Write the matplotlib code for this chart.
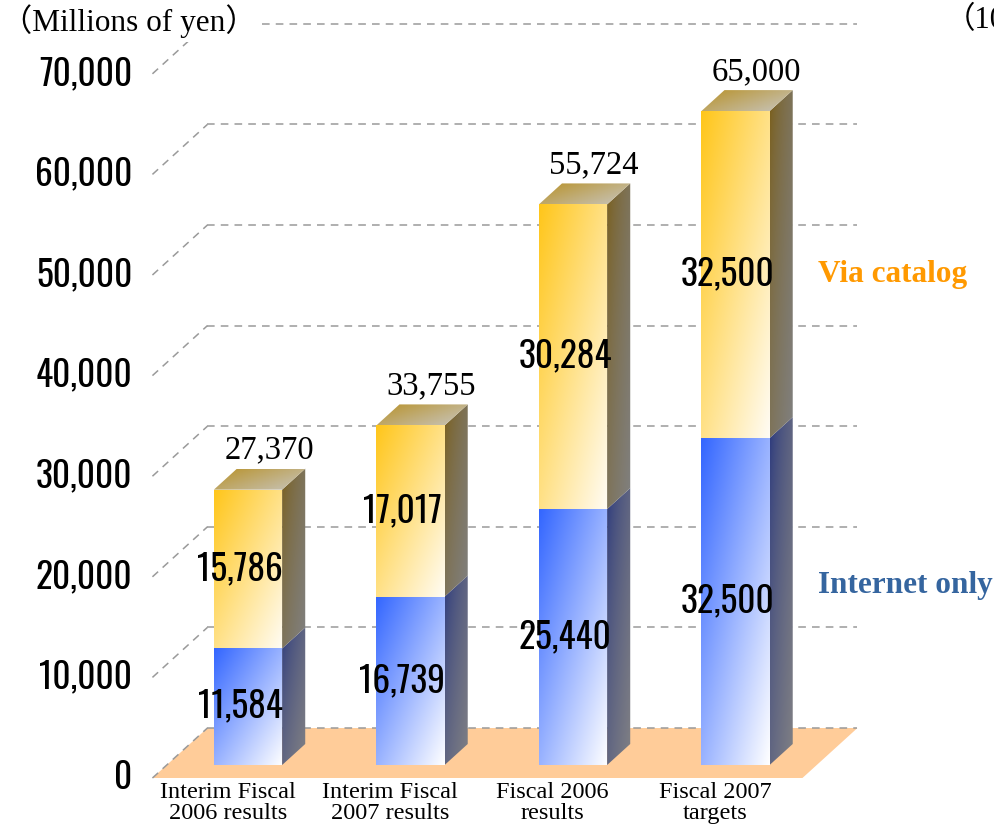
import numpy as np
import matplotlib
matplotlib.use("Agg")
import matplotlib.pyplot as plt
from matplotlib.patches import Polygon
from matplotlib import font_manager as fm
from matplotlib.colors import to_rgb

# data (millions of yen)
categories = ["Interim Fiscal\n2006 results", "Interim Fiscal\n2007 results",
              "Fiscal 2006\nresults", "Fiscal 2007\ntargets"]
internet = [11584, 16739, 25440, 32500]
catalog = [15786, 17017, 30284, 32500]
totals = [27370, 33755, 55724, 65000]
yticks = [0, 10000, 20000, 30000, 40000, 50000, 60000, 70000]

# layout: pixels per category / per yen unit
PX_X = 162.5
PX_Y = 100.6 / 10000
DEPTH = (55, 50)          # floor depth in pixels
F_FRONT = 0.26            # bar front plane position inside the depth
F_BAR = 0.42              # bar depth as fraction of floor depth
BAR_W = 0.42

names = {f.name for f in fm.fontManager.ttflist}
NUM_FONT = next((f for f in ["Oswald", "Fira Sans Extra Condensed", "Roboto Condensed",
                             "Liberation Sans Narrow"] if f in names), "DejaVu Sans")
NUM_SIZE = 25.5
SERIF = ["Liberation Serif", "Noto Sans CJK JP", "DejaVu Sans"]


def dx(p):
    return p / PX_X


def dy(p):
    return p / PX_Y


front = (dx(-F_FRONT * DEPTH[0]), dy(-F_FRONT * DEPTH[1]))
back = (dx((1 - F_FRONT) * DEPTH[0]), dy((1 - F_FRONT) * DEPTH[1]))
bdep = (dx(F_BAR * DEPTH[0]), dy(F_BAR * DEPTH[1]))


def shade(ax, verts, c1, c2, z, gamma=1.0, wu=0.5):
    verts = np.asarray(verts, dtype=float)
    x0, y0 = verts.min(0)
    x1, y1 = verts.max(0)
    n = 80
    u = np.linspace(0, 1, n)[None, :]
    v = np.linspace(0, 1, n)[:, None]
    t = np.clip(wu * u + (1 - wu) * (1 - v), 0, 1) ** gamma
    c1 = np.array(to_rgb(c1))
    c2 = np.array(to_rgb(c2))
    rgb = (1 - t)[..., None] * c1 + t[..., None] * c2
    im = ax.imshow(rgb, extent=(x0, x1, y0, y1), origin="lower", aspect="auto",
                   interpolation="bilinear", zorder=z)
    poly = Polygon(verts, closed=True, facecolor="none", edgecolor="none")
    ax.add_patch(poly)
    im.set_clip_path(poly)


fig = plt.figure(figsize=(9.94, 8.27), dpi=100)
ax = fig.add_axes([0, 0, 1, 1])
ax.axis("off")

n = len(categories)
left, right = -0.5, n - 0.5

# floor
floor = [(left + front[0], front[1]), (right + front[0], front[1]),
         (right + back[0], back[1]), (left + back[0], back[1])]
ax.add_patch(Polygon(floor, closed=True, facecolor="#FFCC99", edgecolor="none", zorder=1))

# gridlines on back wall + diagonals on left side
grid_kw = dict(color="#9A9A9A", lw=1.1, ls=(0, (5, 4)), zorder=2)
for v in yticks:
    ax.plot([left + back[0], right + back[0]], [v + back[1]] * 2, **grid_kw)
    ax.plot([left + front[0], left + back[0]], [v + front[1], v + back[1]], **grid_kw)
    ax.text(left + front[0] - dx(20), v + front[1], f"{v:,}", ha="right", va="center",
            fontsize=NUM_SIZE, family=NUM_FONT, color="black")

# bars
for i in range(n):
    x0, x1 = i - BAR_W / 2, i + BAR_W / 2
    segs = [(0, internet[i], ("#3366FF", "#FFFFFF"), ("#24337D", "#808084")),
            (internet[i], internet[i] + catalog[i], ("#FFC61A", "#FFFCF4"), ("#7A5C12", "#808080"))]
    for b, t, fc, sc in segs:
        shade(ax, [(x0, b), (x1, b), (x1, t), (x0, t)], fc[0], fc[1], 5)
        side = [(x1, b), (x1 + bdep[0], b + bdep[1]), (x1 + bdep[0], t + bdep[1]), (x1, t)]
        shade(ax, side, sc[0], sc[1], 5, gamma=0.6)
    top = internet[i] + catalog[i]
    tface = [(x0, top), (x1, top), (x1 + bdep[0], top + bdep[1]), (x0 + bdep[0], top + bdep[1])]
    shade(ax, tface, "#B8922A", "#C8C6C0", 5, wu=0.6)

    # value labels
    ax.text(i - dx(8), internet[i] / 2, f"{internet[i]:,}", ha="center", va="center",
            fontsize=NUM_SIZE, family=NUM_FONT, zorder=8)
    ax.text(i - dx(8), internet[i] + catalog[i] / 2, f"{catalog[i]:,}", ha="center",
            va="center", fontsize=NUM_SIZE, family=NUM_FONT, zorder=8)
    ax.text(i + dx(21), top + bdep[1] + dy(3), f"{totals[i]:,}", ha="center", va="bottom",
            fontsize=23.5, family=SERIF, zorder=8)
    ax.text(i + front[0] - dx(6), front[1] - dy(4), categories[i], ha="center", va="top",
            fontsize=17.5, family=SERIF, linespacing=1.0, zorder=8)

# series labels beside the last bar
ax.text(n - 1 + dx(82), internet[-1] + catalog[-1] / 2, "Via catalog", ha="left",
        va="center", fontsize=22.5, fontweight="bold", family=SERIF, color="#FF9900")
ax.text(n - 1 + dx(82), internet[-1] / 2 + 1600, "Internet only", ha="left",
        va="center", fontsize=22.5, fontweight="bold", family=SERIF, color="#35659F")

ax.set_xlim(-248 / PX_X, (994 - 248) / PX_X)
ax.set_ylim(-62 / PX_Y, (827 - 62) / PX_Y)

fig.text(1 / 994, 1 - 21 / 827, "（Millions of yen）", ha="left", va="center", fontsize=22.5,
         family=SERIF, bbox=dict(facecolor="white", edgecolor="none", pad=3))
fig.text(945 / 994, 1 - 21 / 827, "（100", ha="left", va="center", fontsize=22, family=SERIF)

fig.savefig("out.png", dpi=100)
